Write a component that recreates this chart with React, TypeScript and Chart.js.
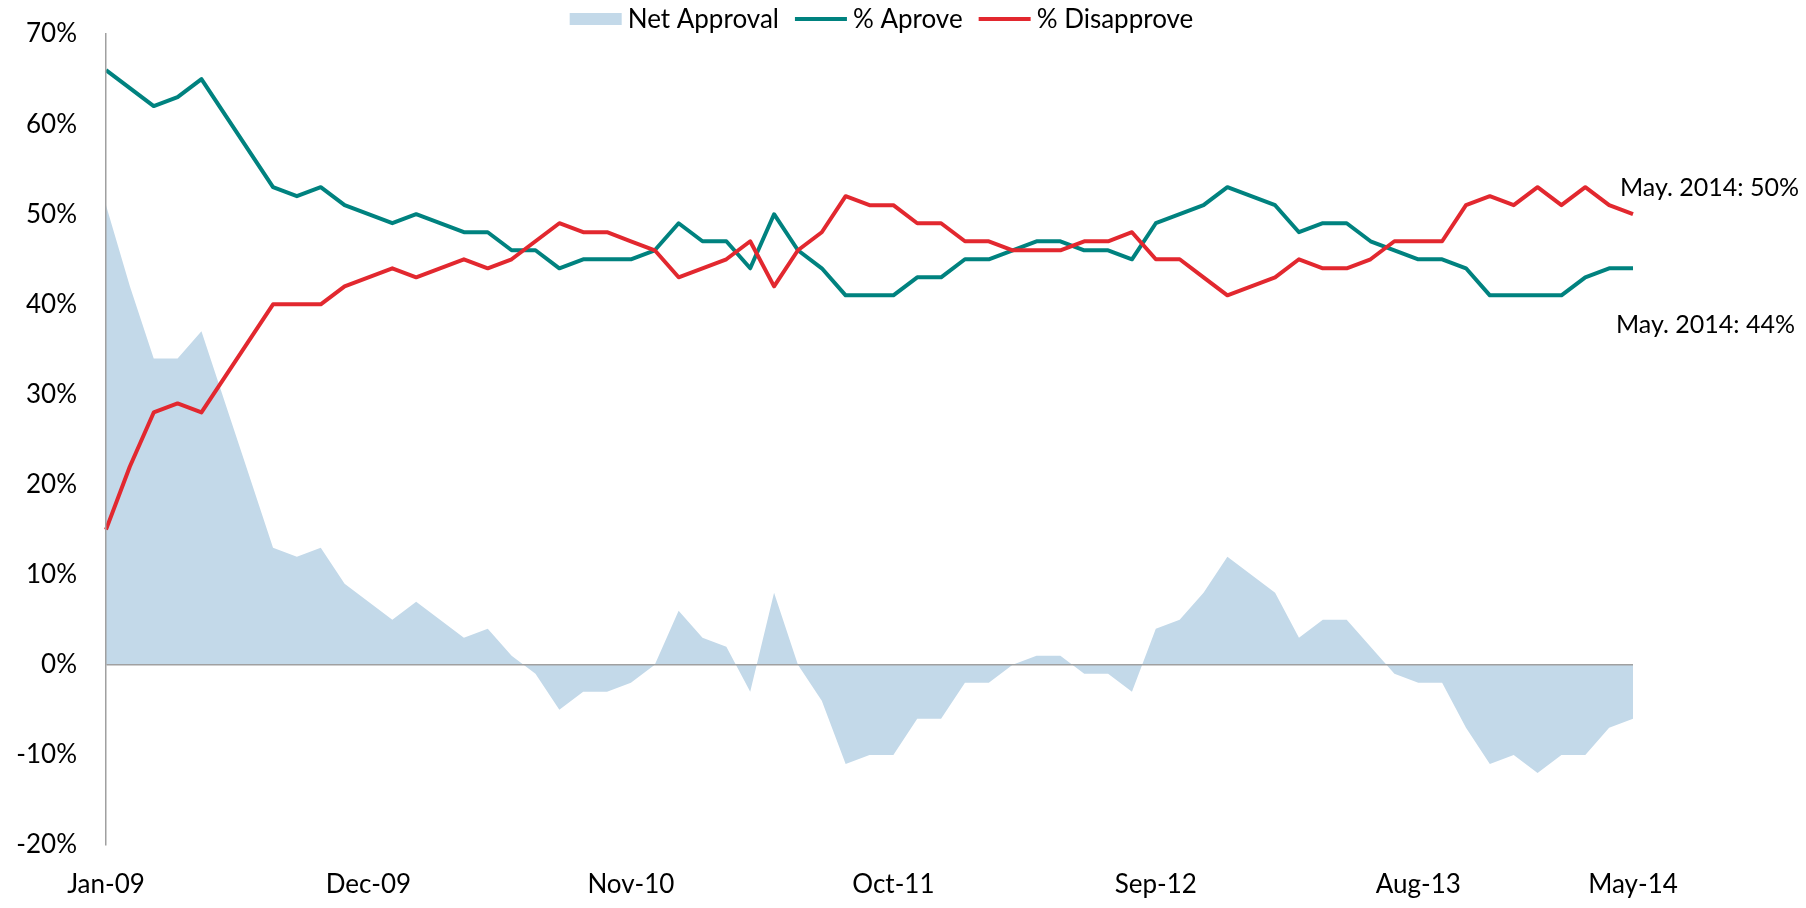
import React, { useEffect, useRef } from 'react';
import { Chart, registerables } from 'chart.js';

Chart.register(...registerables);

const LABELS = [
  'Jan-09', 'Feb-09', 'Mar-09', 'Apr-09', 'May-09', 'Jun-09', 'Jul-09', 'Aug-09', 'Sep-09', 'Oct-09', 'Nov-09', 'Dec-09',
  'Jan-10', 'Feb-10', 'Mar-10', 'Apr-10', 'May-10', 'Jun-10', 'Jul-10', 'Aug-10', 'Sep-10', 'Oct-10', 'Nov-10', 'Dec-10',
  'Jan-11', 'Feb-11', 'Mar-11', 'Apr-11', 'May-11', 'Jun-11', 'Jul-11', 'Aug-11', 'Sep-11', 'Oct-11', 'Nov-11', 'Dec-11',
  'Jan-12', 'Feb-12', 'Mar-12', 'Apr-12', 'May-12', 'Jun-12', 'Jul-12', 'Aug-12', 'Sep-12', 'Oct-12', 'Nov-12', 'Dec-12',
  'Jan-13', 'Feb-13', 'Mar-13', 'Apr-13', 'May-13', 'Jun-13', 'Jul-13', 'Aug-13', 'Sep-13', 'Oct-13', 'Nov-13', 'Dec-13',
  'Jan-14', 'Feb-14', 'Mar-14', 'Apr-14', 'May-14',
];

const SHOWN_TICKS = ['Jan-09', 'Dec-09', 'Nov-10', 'Oct-11', 'Sep-12', 'Aug-13', 'May-14'];

const APPROVE = [
  66, 64, 62, 63, 65, 61, 57, 53, 52, 53,
  51, 50, 49, 50, 49, 48, 48, 46, 46, 44,
  45, 45, 45, 46, 49, 47, 47, 44, 50, 46,
  44, 41, 41, 41, 43, 43, 45, 45, 46, 47,
  47, 46, 46, 45, 49, 50, 51, 53, 52, 51,
  48, 49, 49, 47, 46, 45, 45, 44, 41, 41,
  41, 41, 43, 44, 44,
];

const DISAPPROVE = [
  15, 22, 28, 29, 28, 32, 36, 40, 40, 40,
  42, 43, 44, 43, 44, 45, 44, 45, 47, 49,
  48, 48, 47, 46, 43, 44, 45, 47, 42, 46,
  48, 52, 51, 51, 49, 49, 47, 47, 46, 46,
  46, 47, 47, 48, 45, 45, 43, 41, 42, 43,
  45, 44, 44, 45, 47, 47, 47, 51, 52, 51,
  53, 51, 53, 51, 50,
];

const NET = [
  51, 42, 34, 34, 37, 29, 21, 13, 12, 13,
  9, 7, 5, 7, 5, 3, 4, 1, -1, -5,
  -3, -3, -2, 0, 6, 3, 2, -3, 8, 0,
  -4, -11, -10, -10, -6, -6, -2, -2, 0, 1,
  1, -1, -1, -3, 4, 5, 8, 12, 10, 8,
  3, 5, 5, 2, -1, -2, -2, -7, -11, -10,
  -12, -10, -10, -7, -6,
];

const SERIES_NAMES = ['Net Approval', '% Aprove', '% Disapprove'];
const END_LABELS = ['May. 2014: 44%', 'May. 2014: 50%'];

const Y_MIN = -20;
const Y_MAX = 70;
const Y_STEP = 10;

const TEAL = '#00827F';
const RED = '#E2282F';
const FILL = '#C3D9E9';
const AXIS = '#A0A0A0';
const FONT = 'Lato, "Open Sans", sans-serif';

export default function App() {
  const ref = useRef<HTMLCanvasElement>(null);

  useEffect(() => {
    const endLabels = {
      id: 'endLabels',
      afterDatasetsDraw(chart: any) {
        const ctx = chart.ctx;
        ctx.save();
        ctx.font = `25px ${FONT}`;
        ctx.fillStyle = '#000';
        ctx.textAlign = 'left';
        ctx.textBaseline = 'middle';
        const a = chart.getDatasetMeta(1).data;
        const pa = a[a.length - 1];
        ctx.fillText(END_LABELS[0], pa.x - 17, pa.y + 57);
        const d = chart.getDatasetMeta(2).data;
        const pd = d[d.length - 1];
        ctx.fillText(END_LABELS[1], pd.x - 13, pd.y - 26);
        ctx.restore();
      },
    };

    const topLegend = {
      id: 'topLegend',
      afterDraw(chart: any) {
        const ctx = chart.ctx;
        const markerW = 52;
        const markerGap = 6;
        const itemGap = 16;
        const cy = 11;
        ctx.save();
        ctx.font = `26px ${FONT}`;
        ctx.textBaseline = 'middle';
        ctx.textAlign = 'left';
        const widths = SERIES_NAMES.map((t) => ctx.measureText(t).width);
        const total =
          widths.reduce((s, w) => s + w, 0) + SERIES_NAMES.length * (markerW + markerGap) + (SERIES_NAMES.length - 1) * itemGap;
        const center = (chart.chartArea.left + chart.chartArea.right) / 2 + 12;
        let x = center - total / 2;
        SERIES_NAMES.forEach((name, i) => {
          const ds = chart.data.datasets[i];
          if (i === 0) {
            ctx.fillStyle = ds.backgroundColor;
            ctx.fillRect(x, cy - 6, markerW, 12);
          } else {
            ctx.strokeStyle = ds.borderColor;
            ctx.lineWidth = 4;
            ctx.beginPath();
            ctx.moveTo(x, cy);
            ctx.lineTo(x + markerW, cy);
            ctx.stroke();
          }
          x += markerW + markerGap;
          ctx.fillStyle = '#000';
          ctx.fillText(name, x, cy + 1);
          x += widths[i] + itemGap;
        });
        ctx.restore();
      },
    };

    const chart = new Chart(ref.current as HTMLCanvasElement, {
      type: 'line',
      data: {
        labels: LABELS,
        datasets: [
          {
            label: SERIES_NAMES[0],
            data: NET,
            fill: 'origin',
            backgroundColor: FILL,
            borderColor: FILL,
            borderWidth: 0,
            pointRadius: 0,
            pointHoverRadius: 0,
            order: 3,
          },
          {
            label: SERIES_NAMES[1],
            data: APPROVE,
            fill: false,
            borderColor: TEAL,
            backgroundColor: TEAL,
            borderWidth: 4,
            borderJoinStyle: 'round',
            pointRadius: 0,
            pointHoverRadius: 0,
            order: 2,
          },
          {
            label: SERIES_NAMES[2],
            data: DISAPPROVE,
            fill: false,
            borderColor: RED,
            backgroundColor: RED,
            borderWidth: 4,
            borderJoinStyle: 'round',
            pointRadius: 0,
            pointHoverRadius: 0,
            order: 1,
          },
        ],
      },
      options: {
        responsive: false,
        animation: false,
        layout: { padding: { top: 26, right: 165, bottom: 0, left: 0 } },
        plugins: {
          tooltip: { enabled: false },
          legend: { display: false },
        },
        scales: {
          x: {
            type: 'category',
            offset: false,
            grid: { display: false, drawTicks: false },
            border: { display: false },
            ticks: {
              autoSkip: false,
              maxRotation: 0,
              minRotation: 0,
              padding: 24,
              color: '#000',
              font: { family: FONT, size: 26 },
              callback: (_v: any, i: number) => (SHOWN_TICKS.includes(LABELS[i]) ? LABELS[i] : null),
            },
            afterFit: (s: any) => {
              s.height = 55;
              s.paddingLeft = 0;
              s.paddingRight = 0;
            },
          },
          y: {
            min: Y_MIN,
            max: Y_MAX,
            ticks: {
              stepSize: Y_STEP,
              padding: 29,
              color: '#000',
              font: { family: FONT, size: 26 },
              callback: (v: any) => `${v}%`,
            },
            grid: {
              drawTicks: false,
              lineWidth: 1.5,
              z: 1,
              color: (c: any) => (c.tick && c.tick.value === 0 ? AXIS : 'rgba(0,0,0,0)'),
            },
            border: { display: true, color: AXIS, width: 1.5, z: 1 },
            afterFit: (s: any) => {
              s.width = 98;
              s.paddingTop = 0;
              s.paddingBottom = 0;
            },
          },
        },
      },
      plugins: [endLabels, topLegend],
    } as any);

    return () => chart.destroy();
  }, []);

  return <canvas ref={ref} width={1790} height={892} style={{ display: 'block' }} />;
}
